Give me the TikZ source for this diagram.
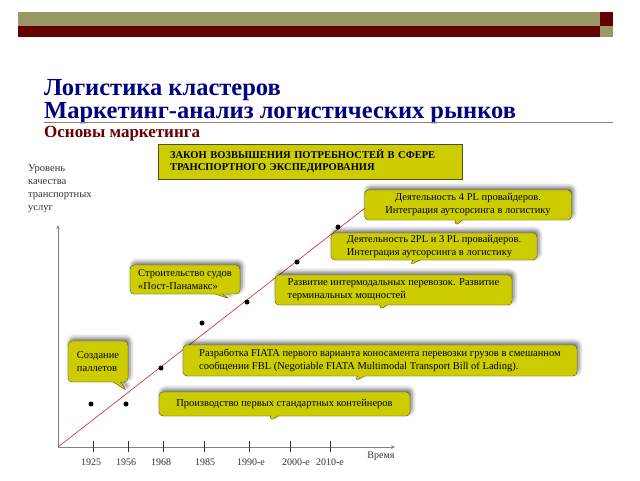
\documentclass[tikz,border=0pt]{standalone}
\usepackage{fontspec}
\setmainfont{Liberation Serif}
\usepackage{tikz}
\usetikzlibrary{shapes}
\usetikzlibrary{shapes.callouts}
\usetikzlibrary{arrows}
\usetikzlibrary{shadows}
\usetikzlibrary{shadows.blur}
\definecolor{olivebar}{RGB}{153,153,102}
\definecolor{bordeaux}{RGB}{102,0,0}
\definecolor{marine}{RGB}{0,0,128}
\definecolor{jaune}{RGB}{204,204,0}
\definecolor{bordure}{RGB}{80,80,30}
\definecolor{rouge}{RGB}{215,30,50}
\definecolor{axe}{RGB}{130,130,130}
\tikzstyle{bulle}=[
        rectangle callout,
        draw=bordure,
        fill=jaune,
        rounded corners=4pt,
        inner xsep=4pt,
        inner ysep=2pt,
        align=left,
        font=\fontsize{10.5}{13}\selectfont,
        blur shadow={shadow xshift=2pt,shadow yshift=3pt,shadow blur radius=4pt,shadow opacity=55}
]
\tikzstyle{loi}=[rectangle,draw=bordure,fill=jaune,thick,align=left,
        inner xsep=12pt,text width=280pt,
        font=\bfseries\fontsize{10.5}{12}\selectfont]
\tikzstyle{point}=[circle,fill=black,inner sep=0pt,minimum size=5pt]
\tikzstyle{annee}=[font=\fontsize{10}{11}\selectfont,text=black!80]
\tikzstyle{axes}=[->,>=stealth,axe,thick]
\tikzstyle{graduation}=[black!80,thick]
\tikzstyle{tendance}=[rouge,semithick]

\begin{document}
\begin{tikzpicture}[x=1pt,y=-1pt]
\useasboundingbox (0,0) rectangle (640,480);
%bandeau
\fill[olivebar] (18,12) rectangle (600,26);
\fill[bordeaux] (18,26) rectangle (600,37);
\fill[bordeaux] (600,12) rectangle (613,26);
\fill[olivebar] (600,26) rectangle (613,37);
%titres
\node[anchor=base west,inner sep=0pt,text=marine,align=left,
  font=\bfseries\fontsize{24.5}{21}\selectfont] (titre) at (44,118)
  {Логистика кластеров\\Маркетинг-анализ логистических рынков};
\draw[axe,thick] (44,122) -- (613,122);
\node[anchor=base west,inner sep=0pt,text=bordeaux,
  font=\bfseries\fontsize{17}{17}\selectfont] (sous) at (44,137) {Основы маркетинга};
\node[loi,minimum height=35pt] (loi) at (310,161.5)
  {ЗАКОН ВОЗВЫШЕНИЯ ПОТРЕБНОСТЕЙ В СФЕРЕ\\ТРАНСПОРТНОГО ЭКСПЕДИРОВАНИЯ};
\node[anchor=north west,align=left,inner sep=0pt,text=black!80,
  font=\fontsize{10.5}{13}\selectfont] (niveau) at (28,164)
  {Уровень\\качества\\транспортных\\услуг};
%axes
\coordinate (O) at (58,447);
\coordinate (haut) at (58,225);
\coordinate (droite) at (395,447);
\coordinate (fin) at (365,208);
\draw[axes] (O) -- (haut);
\draw[axes] (O) -- (droite);
\node[annee] (temps) at (381,456) {Время};
\draw[graduation] (93,441) -- (93,452);
\draw[graduation] (128,441) -- (128,452);
\draw[graduation] (163,441) -- (163,452);
\draw[graduation] (204,441) -- (204,452);
\draw[graduation] (249,441) -- (249,452);
\draw[graduation] (290,441) -- (290,452);
\draw[graduation] (330,441) -- (330,452);
\node[annee] (a1925) at (91,462) {1925};
\node[annee] (a1956) at (126,462) {1956};
\node[annee] (a1968) at (161,462) {1968};
\node[annee] (a1985) at (205,462) {1985};
\node[annee] (a1990) at (251,462) {1990-е};
\node[annee] (a2000) at (296,462) {2000-е};
\node[annee] (a2010) at (330,462) {2010-е};
%tendance
\draw[tendance] (O) -- (fin);
\node[point] (d1925) at (91,404) {};
\node[point] (d1956) at (126,404) {};
\node[point] (d1968) at (161,368) {};
\node[point] (d1985) at (202,323) {};
\node[point] (d1990) at (247,302) {};
\node[point] (d2000) at (297,262) {};
\node[point] (d2010) at (338,227) {};
%bulles
\node[bulle,align=center,minimum width=207pt,minimum height=30pt,
  callout absolute pointer={(455,226)}] (pl4) at (468,205)
  {Деятельность 4 PL провайдеров.\\Интеграция аутсорсинга в логистику};
\node[bulle,minimum width=206pt,minimum height=27pt,
  callout absolute pointer={(410,265)}] (pl23) at (434,246.5)
  {Деятельность 2PL и 3 PL провайдеров.\\Интеграция аутсорсинга в логистику};
\node[bulle,minimum width=110pt,minimum height=29pt,
  callout absolute pointer={(230,299)}] (panamax) at (185,279.5)
  {Строительство судов\\«Пост-Панамакс»};
\node[bulle,minimum width=237pt,minimum height=30pt,
  callout absolute pointer={(380,310)}] (interm) at (393.5,290)
  {Развитие интермодальных перевозок. Развитие\\терминальных мощностей};
\node[bulle,minimum width=60pt,minimum height=41pt,
  callout absolute pointer={(127,391)}] (pallet) at (98,361.5)
  {Создание\\паллетов};
\node[bulle,minimum width=394pt,minimum height=31pt,
  callout absolute pointer={(355,381)}] (fbl) at (380,360.5)
  {Разработка FIATA первого варианта коносамента перевозки грузов в смешанном\\сообщении FBL (Negotiable FIATA Multimodal Transport Bill of Lading).};
\node[bulle,align=center,minimum width=251pt,minimum height=24pt,
  callout absolute pointer={(270,421)}] (conteneur) at (284.5,404)
  {Производство первых стандартных контейнеров};
\end{tikzpicture}
\end{document}
